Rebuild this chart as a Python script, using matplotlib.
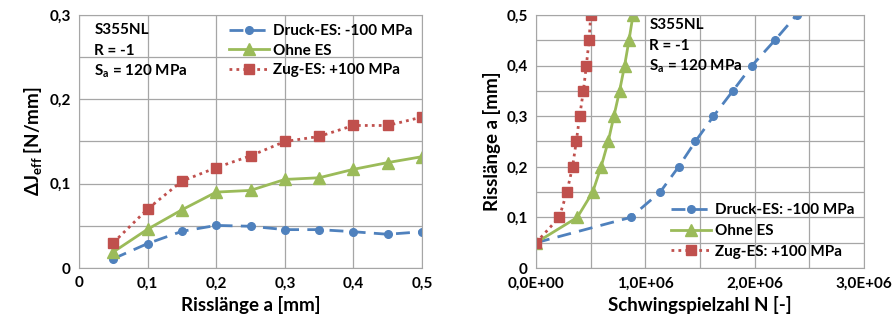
import matplotlib
matplotlib.use("Agg")
import matplotlib.pyplot as plt
from matplotlib.ticker import MultipleLocator, FuncFormatter

plt.rcParams['font.family'] = ['Lato', 'DejaVu Sans']
plt.rcParams['font.weight'] = 'bold'
plt.rcParams['mathtext.fontset'] = 'custom'
plt.rcParams['mathtext.rm'] = 'Lato:bold'
plt.rcParams['mathtext.it'] = 'Lato:bold'
plt.rcParams['mathtext.bf'] = 'Lato:bold'
plt.rcParams['mathtext.default'] = 'rm'

# Data
a_vals = [0.05, 0.10, 0.15, 0.20, 0.25, 0.30, 0.35, 0.40, 0.45, 0.50]
dj_druck = [0.011, 0.029, 0.0435, 0.0505, 0.0495, 0.0455, 0.0455, 0.043, 0.040, 0.043]
dj_ohne = [0.019, 0.046, 0.069, 0.090, 0.092, 0.105, 0.107, 0.117, 0.125, 0.132]
dj_zug = [0.030, 0.070, 0.103, 0.119, 0.133, 0.150, 0.156, 0.169, 0.169, 0.179]

n_druck = [0, 0.865e6, 1.135e6, 1.304e6, 1.457e6, 1.623e6, 1.80e6, 1.975e6, 2.184e6, 2.383e6]
n_ohne = [0, 0.377e6, 0.518e6, 0.595e6, 0.660e6, 0.712e6, 0.764e6, 0.810e6, 0.850e6, 0.887e6]
n_zug = [0, 0.212e6, 0.282e6, 0.334e6, 0.368e6, 0.399e6, 0.433e6, 0.460e6, 0.485e6, 0.500e6]

labels = ["Druck-ES: -100 MPa", "Ohne ES", "Zug-ES: +100 MPa"]
info = ["S355NL", "R = -1", "S$_a$ = 120 MPa"]

BLUE = "#4F81BD"
GREEN = "#9BBB59"
RED = "#C0504D"
GRID = "#A6A6A6"

fig = plt.figure(figsize=(8.94, 3.34), dpi=100)
ax1 = fig.add_axes([0.0884, 0.1976, 0.3837, 0.7575])
ax2 = fig.add_axes([0.5996, 0.1976, 0.3669, 0.7575])

def comma(fmt):
    return FuncFormatter(lambda v, p: fmt(v).replace('.', ','))

styles = [
    dict(color=BLUE, linestyle=(0, (5, 3)), marker='o', markersize=5.5, lw=2),
    dict(color=GREEN, linestyle='-', marker='^', markersize=8, lw=2),
    dict(color=RED, linestyle=(0, (1, 1.5)), marker='s', markersize=6.5, lw=2),
]

for ax in (ax1, ax2):
    for s in ax.spines.values():
        s.set_color(GRID)
    ax.tick_params(length=0, labelsize=11, pad=6)
    ax.grid(True, which='both', color=GRID, lw=0.9)
    ax.set_axisbelow(True)

# Left
for y, lab, st in zip([dj_druck, dj_ohne, dj_zug], labels, styles):
    ax1.plot(a_vals, y, label=lab, **st)
ax1.set_xlim(0, 0.5)
ax1.set_ylim(0, 0.3)
ax1.xaxis.set_major_locator(MultipleLocator(0.1))
ax1.yaxis.set_major_locator(MultipleLocator(0.1))
ax1.yaxis.set_minor_locator(MultipleLocator(0.05))
ax1.tick_params(which='minor', length=0)
ax1.xaxis.set_major_formatter(comma(lambda v: "0" if abs(v) < 1e-9 else f"{v:.1f}"))
ax1.yaxis.set_major_formatter(comma(lambda v: "0" if abs(v) < 1e-9 else f"{v:.1f}"))
ax1.set_xlabel("Risslänge a [mm]", fontsize=13.5, fontweight='bold')
ax1.set_ylabel("ΔJ$_{eff}$ [N/mm]", fontsize=13.5, fontweight='bold')
ax1.legend(loc='upper right', frameon=False, fontsize=11, handlelength=2.6,
           handletextpad=0.3, labelspacing=0.35, borderaxespad=0.2)
for i, t in enumerate(info):
    ax1.text(0.045, 0.94 - i * 0.082, t, transform=ax1.transAxes, fontsize=11,
             fontweight='bold', va='center', ha='left')

# Right
for x, lab, st in zip([n_druck, n_ohne, n_zug], labels, styles):
    ax2.plot(x, a_vals, label=lab, **st)
ax2.set_xlim(0, 3e6)
ax2.set_ylim(0, 0.5)
ax2.xaxis.set_major_locator(MultipleLocator(1e6))
ax2.xaxis.set_minor_locator(MultipleLocator(0.5e6))
ax2.yaxis.set_major_locator(MultipleLocator(0.1))
ax2.yaxis.set_minor_locator(MultipleLocator(0.05))
ax2.tick_params(which='minor', length=0)
ax2.xaxis.set_major_formatter(comma(lambda v: f"{v:.1E}"))
ax2.yaxis.set_major_formatter(comma(lambda v: "0" if abs(v) < 1e-9 else f"{v:.1f}"))
ax2.set_xlabel("Schwingspielzahl N [-]", fontsize=13.5, fontweight='bold')
ax2.set_ylabel("Risslänge a [mm]", fontsize=13.5, fontweight='bold')
ax2.legend(loc='lower right', frameon=False, fontsize=11, handlelength=2.6,
           handletextpad=0.3, labelspacing=0.45, borderaxespad=0.2)
for i, t in enumerate(info):
    ax2.text(0.345, 0.96 - i * 0.082, t, transform=ax2.transAxes, fontsize=11,
             fontweight='bold', va='center', ha='left')

fig.savefig("out.png", dpi=100)
